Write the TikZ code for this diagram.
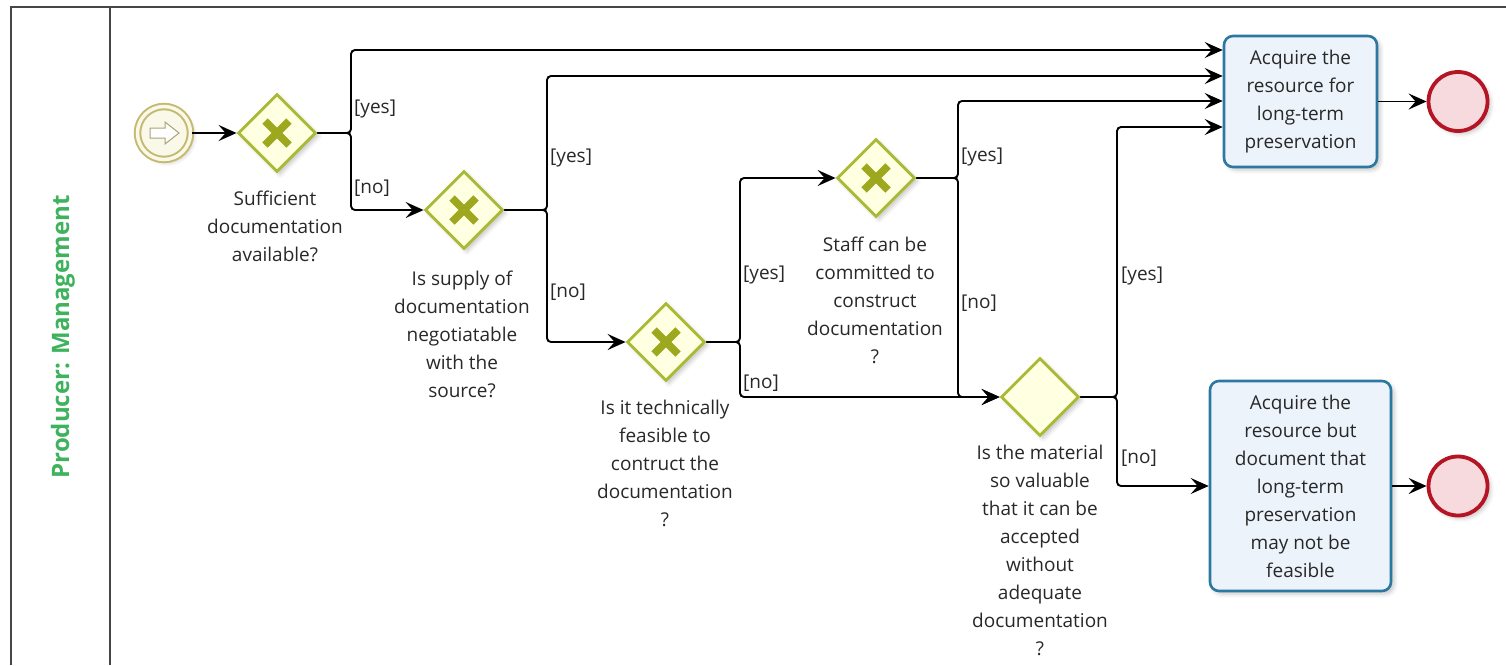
\documentclass[tikz,border=0pt]{standalone}
\usepackage{fontspec}
\setmainfont{Open Sans}
\usetikzlibrary{shapes.geometric,arrows.meta,shadows.blur}

\definecolor{gwline}{RGB}{170,186,52}
\definecolor{gwfill}{RGB}{255,255,226}
\definecolor{gwmark}{RGB}{158,168,30}
\definecolor{taskline}{RGB}{45,120,160}
\definecolor{taskfill}{RGB}{236,243,251}
\definecolor{endline}{RGB}{180,20,35}
\definecolor{endfill}{RGB}{246,218,222}
\definecolor{startline}{RGB}{196,186,112}
\definecolor{startfill}{RGB}{250,248,232}
\definecolor{lanetext}{RGB}{62,178,92}
\definecolor{txt}{RGB}{40,40,40}
\definecolor{framecol}{RGB}{70,70,70}

\tikzset{
  soft/.style={blur shadow={shadow xshift=3pt, shadow yshift=-3pt,
      shadow blur radius=4pt, shadow opacity=22}},
  gateway/.style={diamond, draw=gwline, line width=2.8pt, fill=gwfill,
      minimum width=78pt, minimum height=78pt, inner sep=0pt, soft},
  xmark/.style={path picture={
      \draw[gwmark, line width=7.5pt]
        ([shift={(-12,-12)}]path picture bounding box.center) --
        ([shift={(12,12)}]path picture bounding box.center)
        ([shift={(-12,12)}]path picture bounding box.center) --
        ([shift={(12,-12)}]path picture bounding box.center);}},
  task/.style={rectangle, rounded corners=9pt, draw=taskline, line width=2.6pt,
      fill=taskfill, align=center, inner sep=0pt, text=txt, soft,
      font=\fontsize{19}{28}\selectfont},
  endev/.style={circle, draw=endline, line width=3.8pt, fill=endfill,
      minimum size=59pt, inner sep=0pt, soft},
  startev/.style={circle, draw=startline, line width=2pt,
      double=startfill, double distance=3.5pt, fill=startfill,
      minimum size=53pt, inner sep=0pt, soft},
  qlabel/.style={anchor=north, align=center, inner sep=0pt, text=txt,
      font=\fontsize{19}{28}\selectfont},
  guard/.style={anchor=west, inner sep=1pt, text=txt,
      font=\fontsize{19}{22}\selectfont},
  flow/.style={draw=black, line width=1.9pt, rounded corners=4pt,
      -{Stealth[length=18pt, width=16pt, inset=7pt]}},
  frame/.style={draw=framecol, line width=2pt},
}

\begin{document}
\begin{tikzpicture}[x=1pt, y=-1pt]
\useasboundingbox (0,0) rectangle (1506,665);

% pool and lane frame
\draw[frame] (11,665) -- (11,7) -- (1506,7);
\draw[frame] (110,7) -- (110,665);
\node[rotate=90, text=lanetext, font=\bfseries\fontsize{24}{24}\selectfont]
  (lane) at (63,337) {Producer: Management};

% events, gateways and tasks
\node[startev] (start) at (164,133) {};
\draw[draw=startline!60!gray, fill=white, line width=1pt, line join=miter]
  ([shift={(-14,-5)}]start.center) -- ([shift={(1,-5)}]start.center) --
  ([shift={(1,-11)}]start.center) -- ([shift={(15,0)}]start.center) --
  ([shift={(1,11)}]start.center) -- ([shift={(1,5)}]start.center) --
  ([shift={(-14,5)}]start.center) -- cycle;

\node[gateway, xmark] (g1) at (277,133) {};
\node[gateway, xmark] (g2) at (464,210) {};
\node[gateway, xmark] (g3) at (666,342) {};
\node[gateway, xmark] (g4) at (876,178) {};
\node[gateway] (g5) at (1040,397) {};

\node[task, minimum width=153pt, minimum height=131pt] (t1) at (1300.5,101.5)
  {Acquire the\\resource for\\long-term\\preservation};
\node[task, minimum width=181pt, minimum height=210pt] (t2) at (1300.5,486)
  {Acquire the\\resource but\\document that\\long-term\\preservation\\may not be\\feasible};

\node[endev] (e1) at (1458,101.5) {};
\node[endev] (e2) at (1458,486) {};

% gateway questions
\node[qlabel] (q1) at (275,191) {Sufficient\\documentation\\available?};
\node[qlabel] (q2) at (462,271) {Is supply of\\documentation\\negotiatable\\with the\\source?};
\node[qlabel] (q3) at (665,400) {Is it technically\\feasible to\\contruct the\\documentation\\?};
\node[qlabel] (q4) at (875,237) {Staff can be\\committed to\\construct\\documentation\\?};
\node[qlabel] (q5) at (1040,445) {Is the material\\so valuable\\that it can be\\accepted\\without\\adequate\\documentation\\?};

% branch points of the sequence flows
\coordinate (s1) at (351,133);
\coordinate (s2) at (547,210);
\coordinate (s3) at (740,342);
\coordinate (s4) at (958,178);
\coordinate (s5) at (1117,397);

% sequence flows
\draw[flow] (start) -- (g1);
\draw[flow] (g1.east) -- (s1) |- ([yshift=51.5pt]t1.west);
\draw[flow] (g1.east) -- (s1) |- (g2.west);
\draw[flow] (g2.east) -- (s2) |- ([yshift=25.5pt]t1.west);
\draw[flow] (g2.east) -- (s2) |- (g3.west);
\draw[flow] (g3.east) -- (s3) |- (g4.west);
\draw[flow] (g3.east) -- (s3) |- (g5.west);
\draw[flow] (g4.east) -- (s4) |- ([yshift=0.5pt]t1.west);
\draw[flow] (g4.east) -- (s4) |- (g5.west);
\draw[flow] (g5.east) -- (s5) |- ([yshift=-25.5pt]t1.west);
\draw[flow] (g5.east) -- (s5) |- (t2.west);
\draw[flow] (t1.east) -- (e1.west);
\draw[flow] (t2.east) -- (e2.west);

% guard labels
\node[guard] (y1) at (353,109) {[yes]};
\node[guard] (n1) at (353,188) {[no]};
\node[guard] (y2) at (549,158) {[yes]};
\node[guard] (n2) at (549,292) {[no]};
\node[guard] (y3) at (742,275) {[yes]};
\node[guard] (n3) at (742,383) {[no]};
\node[guard] (y4) at (960,157) {[yes]};
\node[guard] (n4) at (960,303) {[no]};
\node[guard] (y5) at (1120,276) {[yes]};
\node[guard] (n5) at (1120,458) {[no]};
\end{tikzpicture}
\end{document}
